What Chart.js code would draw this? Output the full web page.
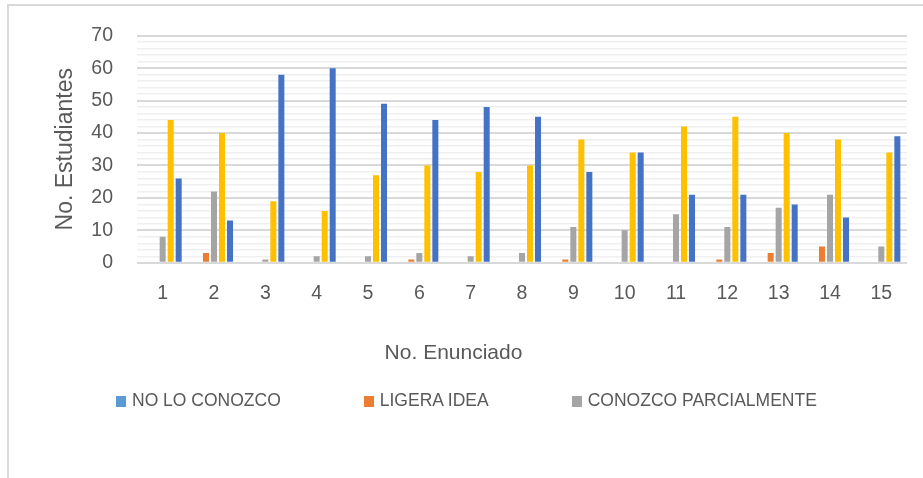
<!DOCTYPE html>
<html>
<head>
<meta charset="utf-8">
<script src="https://cdn.jsdelivr.net/npm/chart.js@4.4.0/dist/chart.umd.min.js"></script>
<style>
  html, body { margin: 0; padding: 0; background: #fff; overflow: hidden; }
  #wrap { position: relative; width: 923px; height: 478px; overflow: hidden; }
  #frame { position: absolute; left: 7px; top: 4px; width: 1000px; height: 1000px;
           border-left: 2px solid #d9d9d9; border-top: 2px solid #d9d9d9; }
  #chart { position: absolute; left: 0; top: 0; }
  #legend { position: absolute; left: 116px; top: 390px; display: flex; gap: 83px;
            font-family: 'Liberation Sans', sans-serif; font-size: 17.5px; line-height: 20px; color: #595959; }
  .item { display: flex; align-items: center; white-space: nowrap; }
  .box { width: 10px; height: 11px; margin-right: 6px; margin-top: 2px; }
</style>
</head>
<body>
<div id="wrap">
  <div id="frame"></div>
  <canvas id="chart" width="923" height="478"></canvas>
  <div id="legend"></div>
</div>
<script>
// enunciados 1..15
const enunciados = ['1', '2', '3', '4', '5', '6', '7', '8', '9', '10', '11', '12', '13', '14', '15'];

const seriesNames = ['NO LO CONOZCO', 'LIGERA IDEA', 'CONOZCO PARCIALMENTE', 'LO CONOZCO', 'LO DOMINO'];
const seriesColors = ['#5B9BD5', '#ED7D31', '#A5A5A5', '#FFC000', '#4472C4'];

const noLoConozco = [0, 0, 0, 0, 0, 0, 0, 0, 0, 0, 0, 0, 0, 0, 0];
const ligeraIdea = [0, 3, 0, 0, 0, 1, 0, 0, 1, 0, 0, 1, 3, 5, 0];
const conozcoParcialmente = [8, 22, 1, 2, 2, 3, 2, 3, 11, 10, 15, 11, 17, 21, 5];
const loConozco = [44, 40, 19, 16, 27, 30, 28, 30, 38, 34, 42, 45, 40, 38, 34];
const loDomino = [26, 13, 58, 60, 49, 44, 48, 45, 28, 34, 21, 21, 18, 14, 39];

// only the first row of the legend is visible in the original
const legendShown = 3;

const yTicks = [0, 10, 20, 30, 40, 50, 60, 70];

const allValues = [noLoConozco, ligeraIdea, conozcoParcialmente, loConozco, loDomino];

const datasets = allValues.map((vals, i) => ({
    label: seriesNames[i],
    data: vals,
    backgroundColor: seriesColors[i],
    borderWidth: 0,
    barPercentage: 0.75,
    categoryPercentage: 0.78
}));

const textColor = '#595959';
const fontFamily = "'Liberation Sans', sans-serif";

new Chart(document.getElementById('chart'), {
    type: 'bar',
    data: { labels: enunciados, datasets: datasets },
    options: {
        responsive: false,
        animation: false,
        layout: { padding: { left: 0, right: 16, top: 33, bottom: 112 } },
        plugins: {
            legend: { display: false },
            tooltip: { enabled: false },
            title: {
                display: true,
                position: 'bottom',
                text: 'No. Enunciado',
                color: textColor,
                font: { family: fontFamily, size: 21, weight: 'normal' },
                padding: { top: 28, bottom: 0 }
            }
        },
        scales: {
            x: {
                grid: { display: false },
                border: { display: false },
                ticks: {
                    color: textColor,
                    font: { family: fontFamily, size: 19.5 },
                    padding: 11,
                    maxRotation: 0
                },
                afterFit: (scale) => { scale.height = 50; }
            },
            y: {
                min: 0,
                max: 70,
                border: { display: false },
                afterFit: (scale) => { scale.width = 137; },
                afterBuildTicks: (scale) => {
                    // minor lines every 2, labels on the tens
                    const t = [];
                    for (let v = 0; v <= 70; v += 2) t.push({ value: v });
                    scale.ticks = t;
                },
                grid: {
                    drawTicks: false,
                    color: (ctx) => (yTicks.includes(ctx.tick.value) ? '#d9d9d9' : '#efefef'),
                    lineWidth: (ctx) => (yTicks.includes(ctx.tick.value) ? 2 : 1.5)
                },
                ticks: {
                    autoSkip: false,
                    color: textColor,
                    font: { family: fontFamily, size: 19.5 },
                    padding: 24,
                    callback: (v) => (yTicks.includes(v) ? String(v) : '')
                },
                title: {
                    display: true,
                    text: 'No. Estudiantes',
                    color: textColor,
                    font: { family: fontFamily, size: 23 },
                    padding: { top: 52, bottom: 0 }
                }
            }
        }
    }
});

// legend row
const legendEl = document.getElementById('legend');
for (let i = 0; i < legendShown; i++) {
    const item = document.createElement('div');
    item.className = 'item';
    const box = document.createElement('span');
    box.className = 'box';
    box.style.background = seriesColors[i];
    const txt = document.createElement('span');
    txt.textContent = seriesNames[i];
    item.appendChild(box);
    item.appendChild(txt);
    legendEl.appendChild(item);
}
</script>
</body>
</html>
